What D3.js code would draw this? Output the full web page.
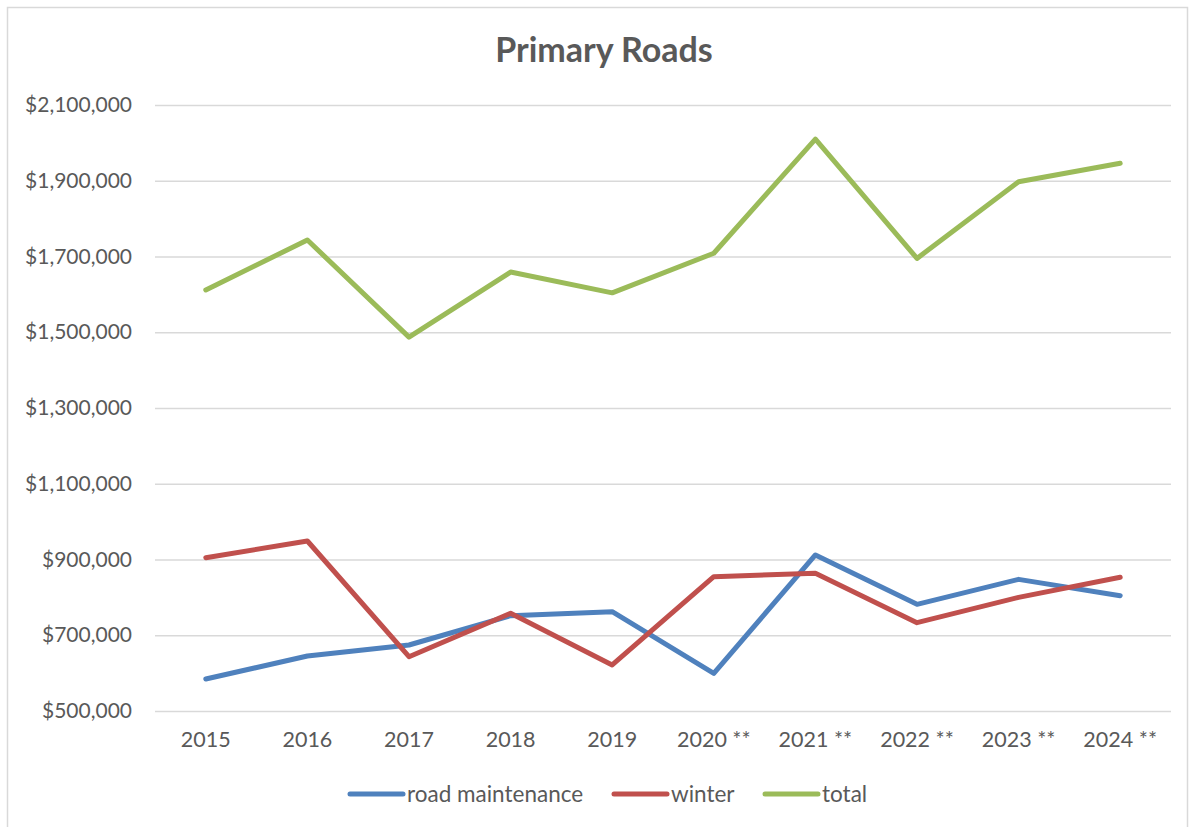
<!DOCTYPE html>
<html>
<head>
<meta charset="utf-8">
<script src="https://cdn.jsdelivr.net/npm/d3@7"></script>
<style>
  body { margin: 0; background: #fff; }
  svg { display: block; font-family: Lato, "Open Sans", sans-serif; }
</style>
</head>
<body>
<svg id="chart"></svg>
<script>
// data
var years = ["2015", "2016", "2017", "2018", "2019", "2020 **", "2021 **", "2022 **", "2023 **", "2024 **"];
var roadMaintenance = [584500, 645200, 674300, 751600, 762200, 599400, 911900, 781600, 847600, 804500];
var winter = [904800, 948800, 643400, 757900, 621500, 854600, 863400, 733200, 800000, 853000];
var total = [1611600, 1743600, 1487000, 1659000, 1604000, 1708500, 2010000, 1695000, 1897500, 1946000];
var seriesNames = ["road maintenance", "winter", "total"];
var yTicks = [500000, 700000, 900000, 1100000, 1300000, 1500000, 1700000, 1900000, 2100000];

var svgWidth = 1195, svgHeight = 827;
var colors = ["#4F81BD", "#C0504D", "#9BBB59"];

var svg = d3.select("#chart")
  .attr("width", svgWidth)
  .attr("height", svgHeight);

// outer chart border
svg.append("rect")
  .attr("x", 7.5).attr("y", 7.5)
  .attr("width", 1180).attr("height", 830)
  .attr("fill", "none")
  .attr("stroke", "#D9D9D9")
  .attr("stroke-width", 1.5);

var plotLeft = 155, plotRight = 1171, plotTop = 105, plotBottom = 711;

var xScale = d3.scaleBand()
  .domain(years)
  .range([plotLeft, plotRight]);

var yScale = d3.scaleLinear()
  .domain([500000, 2100000])
  .range([plotBottom, plotTop]);

// gridlines + y labels
var y_axis = d3.axisLeft(yScale)
  .tickValues(yTicks)
  .tickSize(-(plotRight - plotLeft))
  .tickPadding(23)
  .tickFormat(function (d) { return "$" + d3.format(",")(d); });

var gy = svg.append("g")
  .attr("transform", "translate(" + plotLeft + ",0)")
  .call(y_axis);
gy.select(".domain").remove();
gy.selectAll("line").attr("stroke", "#D9D9D9").attr("stroke-width", 1.5);
gy.selectAll("text")
  .attr("fill", "#595959")
  .style("font-size", "21px")
  .style("font-family", "Lato, 'Open Sans', sans-serif");

// x labels
var x_axis = d3.axisBottom(xScale).tickSize(0).tickPadding(21);
var gx = svg.append("g")
  .attr("transform", "translate(0," + plotBottom + ")")
  .call(x_axis);
gx.select(".domain").remove();
gx.selectAll("text")
  .attr("fill", "#595959")
  .style("font-size", "21.5px")
  .style("font-family", "Lato, 'Open Sans', sans-serif");

// lines
var line = d3.line()
  .x(function (d, i) { return xScale(years[i]) + xScale.bandwidth() / 2; })
  .y(function (d) { return yScale(d); });

var allSeries = [roadMaintenance, winter, total];
svg.selectAll(".series")
  .data(allSeries)
  .enter()
  .append("path")
  .attr("class", "series")
  .attr("d", line)
  .attr("fill", "none")
  .attr("stroke", function (d, i) { return colors[i]; })
  .attr("stroke-width", 5)
  .attr("stroke-linecap", "round")
  .attr("stroke-linejoin", "round");

// title
svg.append("text")
  .attr("x", 604)
  .attr("y", 62)
  .attr("text-anchor", "middle")
  .attr("fill", "#595959")
  .style("font-size", "34px")
  .style("font-weight", "bold")
  .text("Primary Roads");

// legend
var legendX = [350, 614, 765];
var legend = svg.selectAll(".legend")
  .data(seriesNames)
  .enter()
  .append("g")
  .attr("class", "legend")
  .attr("transform", function (d, i) { return "translate(" + legendX[i] + ",794)"; });

legend.append("line")
  .attr("x1", 0).attr("x2", 53)
  .attr("y1", 0).attr("y2", 0)
  .attr("stroke", function (d, i) { return colors[i]; })
  .attr("stroke-width", 5)
  .attr("stroke-linecap", "round");

legend.append("text")
  .attr("x", 57)
  .attr("y", 8)
  .attr("fill", "#595959")
  .style("font-size", "22.5px")
  .text(function (d) { return d; });
</script>
</body>
</html>
